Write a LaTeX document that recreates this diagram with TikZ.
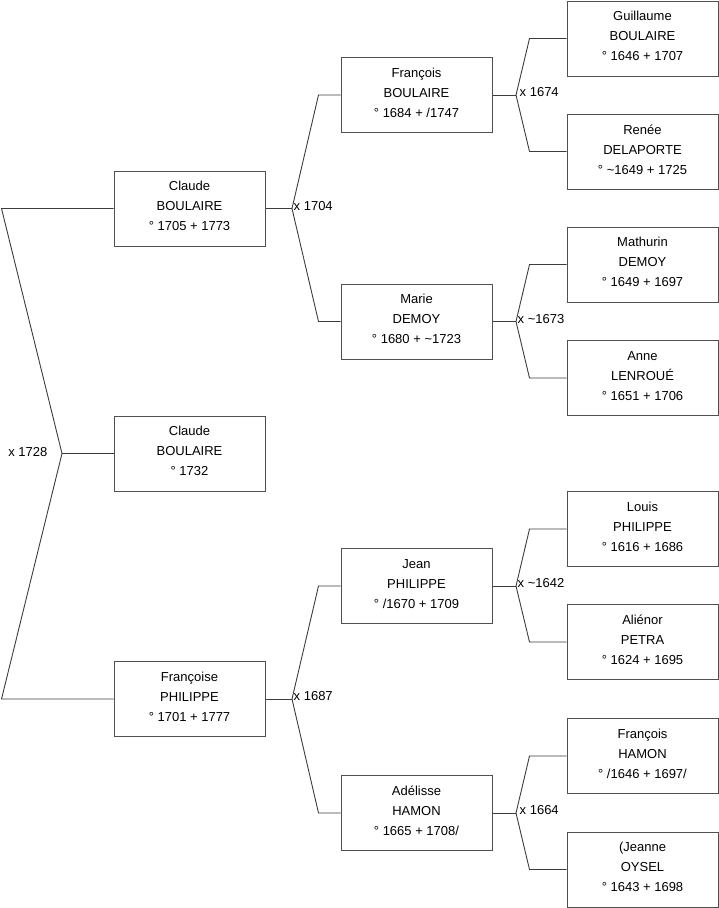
\documentclass[tikz,border=0pt]{standalone}
\usepackage{fontspec}
\setmainfont{Liberation Sans}
\definecolor{boxline}{RGB}{80,80,80}
\definecolor{conn}{RGB}{60,60,60}
\newcommand{\dpfix}{\rule[-4.5pt]{0pt}{4.5pt}}
\begin{document}
\begin{tikzpicture}[x=1pt,y=-1pt,
  person/.style={draw=boxline, line width=1pt, minimum width=151pt, minimum height=75pt,
    inner sep=0pt, align=center, font=\fontsize{13}{20}\selectfont, text=black},
  link/.style={draw=conn, line width=0.9pt},
  marr/.style={font=\fontsize{13}{15}\selectfont, inner sep=1.5pt, text=black}]
\useasboundingbox (0,0) rectangle (719,908);
% level 1
\node[person] (a1) at (189.5,208.5) {Claude\\BOULAIRE\\° 1705 + 1773\dpfix};
\node[person] (a2) at (189.5,453.5) {Claude\\BOULAIRE\\° 1732\dpfix};
\node[person] (a3) at (189.5,699) {Françoise\\PHILIPPE\\° 1701 + 1777\dpfix};
% level 2
\node[person] (b1) at (416.5,95) {François\\BOULAIRE\\° 1684 + /1747\dpfix};
\node[person] (b2) at (416.5,321.5) {Marie\\DEMOY\\° 1680 + \textasciitilde1723\dpfix};
\node[person] (b3) at (416.5,586) {Jean\\PHILIPPE\\° /1670 + 1709\dpfix};
\node[person] (b4) at (416.5,813) {Adélisse\\HAMON\\° 1665 + 1708/\dpfix};
% level 3
\node[person] (c1) at (642.5,38.5) {Guillaume\\BOULAIRE\\° 1646 + 1707\dpfix};
\node[person] (c2) at (642.5,151.5) {Renée\\DELAPORTE\\° \textasciitilde1649 + 1725\dpfix};
\node[person] (c3) at (642.5,264.5) {Mathurin\\DEMOY\\° 1649 + 1697\dpfix};
\node[person] (c4) at (642.5,378) {Anne\\LENROUÉ\\° 1651 + 1706\dpfix};
\node[person] (c5) at (642.5,529) {Louis\\PHILIPPE\\° 1616 + 1686\dpfix};
\node[person] (c6) at (642.5,642) {Aliénor\\PETRA\\° 1624 + 1695\dpfix};
\node[person] (c7) at (642.5,756) {François\\HAMON\\° /1646 + 1697/\dpfix};
\node[person] (c8) at (642.5,869.5) {(Jeanne\\OYSEL\\° 1643 + 1698\dpfix};
% junctions
\coordinate (j0) at (62,453.5);
\coordinate (j1) at (292,208.5);
\coordinate (j2) at (292,699);
\coordinate (k1) at (516,95);
\coordinate (k2) at (516,321.5);
\coordinate (k3) at (516,586);
\coordinate (k4) at (516,813);
% connectors
\draw[link] (a2.west) -- (j0);
\draw[link] (j0) -- ([xshift=-112pt]a1.west) -- (a1.west);
\draw[link] (j0) -- ([xshift=-112pt]a3.west) -- (a3.west);
\draw[link] (a1.east) -- (j1);
\draw[link] (j1) -- ([xshift=-22pt]b1.west) -- (b1.west);
\draw[link] (j1) -- ([xshift=-22pt]b2.west) -- (b2.west);
\draw[link] (a3.east) -- (j2);
\draw[link] (j2) -- ([xshift=-22pt]b3.west) -- (b3.west);
\draw[link] (j2) -- ([xshift=-22pt]b4.west) -- (b4.west);
\draw[link] (b1.east) -- (k1);
\draw[link] (k1) -- ([xshift=-37pt]c1.west) -- (c1.west);
\draw[link] (k1) -- ([xshift=-37pt]c2.west) -- (c2.west);
\draw[link] (b2.east) -- (k2);
\draw[link] (k2) -- ([xshift=-37pt]c3.west) -- (c3.west);
\draw[link] (k2) -- ([xshift=-37pt]c4.west) -- (c4.west);
\draw[link] (b3.east) -- (k3);
\draw[link] (k3) -- ([xshift=-37pt]c5.west) -- (c5.west);
\draw[link] (k3) -- ([xshift=-37pt]c6.west) -- (c6.west);
\draw[link] (b4.east) -- (k4);
\draw[link] (k4) -- ([xshift=-37pt]c7.west) -- (c7.west);
\draw[link] (k4) -- ([xshift=-37pt]c8.west) -- (c8.west);
% marriage labels
\node[marr, anchor=east] (m0) at ([xshift=-13pt,yshift=1.5pt]j0) {x 1728};
\node[marr, anchor=west] (m1) at ([yshift=2.5pt]j1) {x 1704};
\node[marr, anchor=west] (m2) at ([yshift=2.5pt]j2) {x 1687};
\node[marr, anchor=west] (n1) at ([xshift=2pt,yshift=2.5pt]k1) {x 1674};
\node[marr, anchor=west] (n2) at ([yshift=2pt]k2) {x \textasciitilde1673};
\node[marr, anchor=west] (n3) at ([yshift=3pt]k3) {x \textasciitilde1642};
\node[marr, anchor=west] (n4) at ([xshift=2pt,yshift=3pt]k4) {x 1664};
\end{tikzpicture}
\end{document}
